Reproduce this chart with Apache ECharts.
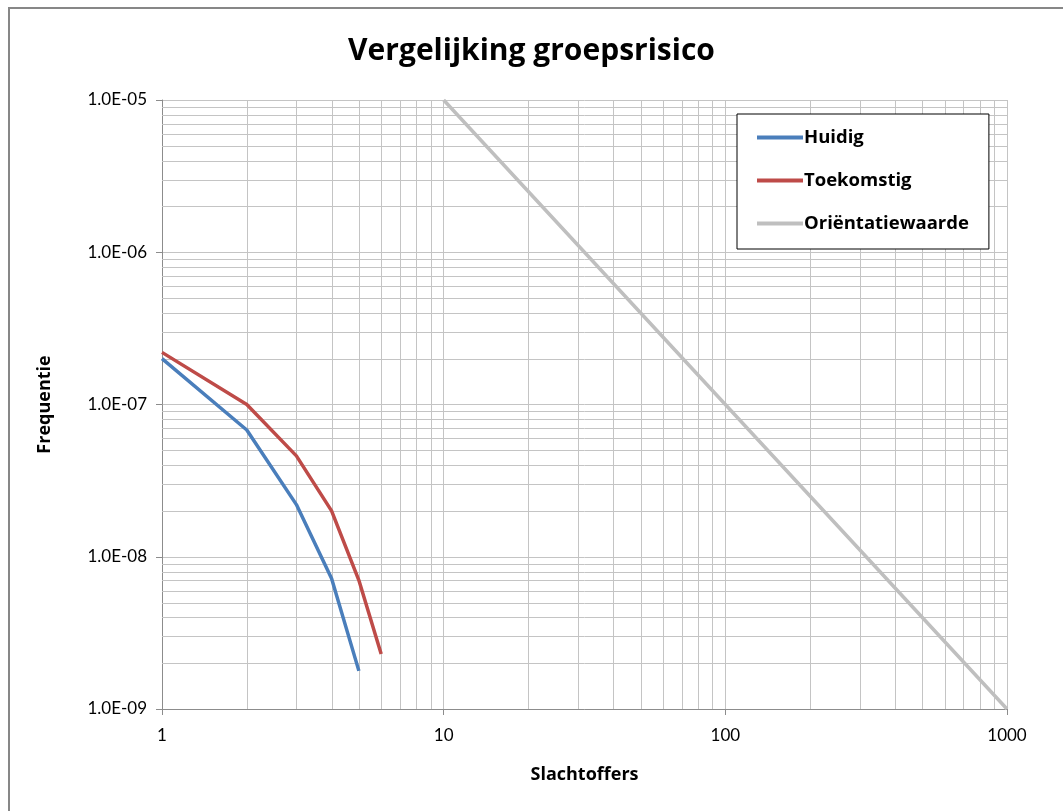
<!DOCTYPE html>
<html><head><meta charset="utf-8">
<script src="https://cdn.jsdelivr.net/npm/echarts@6/dist/echarts.min.js"></script>
<style>html,body{margin:0;padding:0;background:#fff}#c{width:1063px;height:811px}</style>
</head><body><div id="c"></div>
<script>
const title = 'Vergelijking groepsrisico';
const xName = 'Slachtoffers';
const yName = 'Frequentie';
const huidigX = [1, 2, 3, 4, 5];
const huidigY = [2.0e-7, 6.8e-8, 2.2e-8, 7.2e-9, 1.78e-9];
const toekomstigX = [1, 2, 3, 4, 5, 6];
const toekomstigY = [2.2e-7, 1.0e-7, 4.6e-8, 2.0e-8, 7.0e-9, 2.3e-9];
const orientX = [10, 100, 1000];
const orientY = [1e-5, 1e-7, 1e-9];
const xMinorGrid = [2,3,4,5,6,7,8,9,20,30,40,50,60,70,80,90,200,300,400,500,600,700,800,900];
const yMinorGrid = [2e-9,3e-9,4e-9,5e-9,6e-9,7e-9,8e-9,9e-9,2e-8,3e-8,4e-8,5e-8,6e-8,7e-8,8e-8,9e-8,
  2e-7,3e-7,4e-7,5e-7,6e-7,7e-7,8e-7,9e-7,2e-6,3e-6,4e-6,5e-6,6e-6,7e-6,8e-6,9e-6];
const xRange = [1, 1000];
const yRange = [1e-9, 1e-5];

const zip = (xs, ys) => xs.map((x, i) => [x, ys[i]]);
const gridColor = '#c4c4c4';
const font = '"Open Sans", Lato, sans-serif';

const chart = echarts.init(document.getElementById('c'), null, {renderer: 'canvas'});
chart.setOption({
  animation: false,
  backgroundColor: '#fff',
  title: {
    text: title, left: 'center', top: 31,
    textStyle: {fontFamily: font, fontSize: 30, fontWeight: 'bold', color: '#000'}
  },
  graphic: [{
    type: 'rect', shape: {x: 9, y: 8, width: 1100, height: 900},
    style: {fill: 'none', stroke: '#878787', lineWidth: 2}, silent: true, z: 100
  }],
  grid: {left: 162, top: 100, width: 845, height: 609, containLabel: false},
  legend: {
    orient: 'vertical', left: 737, top: 114,
    padding: [11, 20, 13, 20], itemGap: 18,
    backgroundColor: '#fff', borderColor: '#000', borderWidth: 1,
    icon: 'rect', itemWidth: 46, itemHeight: 4,
    textStyle: {fontFamily: font, fontSize: 18.5, fontWeight: 'bold', color: '#000', padding: [0, 0, 0, -4], lineHeight: 25},
    data: ['Huidig', 'Toekomstig', 'Oriëntatiewaarde']
  },
  xAxis: {
    type: 'log', logBase: 10, min: xRange[0], max: xRange[1],
    name: xName, nameLocation: 'middle', nameGap: 57,
    nameTextStyle: {fontFamily: font, fontSize: 18, fontWeight: 'bold', color: '#000'},
    axisLine: {show: true, lineStyle: {color: '#8c8c8c', width: 1}},
    axisTick: {show: true, inside: false, length: 6, lineStyle: {color: '#8c8c8c'}},
    axisLabel: {fontFamily: 'Lato, sans-serif', fontSize: 17, color: '#000', margin: 18, formatter: v => String(v)},
    splitLine: {show: true, lineStyle: {color: gridColor, width: 1}}
  },
  yAxis: {
    type: 'log', logBase: 10, min: yRange[0], max: yRange[1],
    name: yName, nameLocation: 'middle', nameGap: 108, nameRotate: 90,
    nameTextStyle: {fontFamily: font, fontSize: 18, fontWeight: 'bold', color: '#000'},
    axisLine: {show: true, lineStyle: {color: '#8c8c8c', width: 1}},
    axisTick: {show: true, inside: false, length: 6, lineStyle: {color: '#8c8c8c'}},
    axisLabel: {
      fontFamily: 'Lato, sans-serif', fontSize: 17, color: '#000', margin: 15,
      formatter: v => v.toExponential(1).toUpperCase().replace(/E([+-])(\d)$/, 'E$10$2')
    },
    splitLine: {show: true, lineStyle: {color: gridColor, width: 1}}
  },
  series: [
    {name: '__xgrid', type: 'custom', data: xMinorGrid.map(v => [v, yRange[0]]),
      renderItem: function (params, api) {
        const v = api.value(0);
        const p1 = api.coord([v, yRange[0]]);
        const p2 = api.coord([v, yRange[1]]);
        const x = Math.round(p1[0]) + 0.5;
        return {type: 'line', shape: {x1: x, y1: p1[1], x2: x, y2: p2[1]}, style: {stroke: gridColor, lineWidth: 1}, silent: true};
      }, silent: true, z: 1},
    {name: '__ygrid', type: 'custom', data: yMinorGrid.map(v => [xRange[0], v]),
      renderItem: function (params, api) {
        const v = api.value(1);
        const p1 = api.coord([xRange[0], v]);
        const p2 = api.coord([xRange[1], v]);
        const y = Math.round(p1[1]) + 0.5;
        return {type: 'line', shape: {x1: p1[0], y1: y, x2: p2[0], y2: y}, style: {stroke: gridColor, lineWidth: 1}, silent: true};
      }, silent: true, z: 1},
    {name: 'Huidig', type: 'line', data: zip(huidigX, huidigY), showSymbol: false, symbol: 'none',
      lineStyle: {color: '#4a7ebb', width: 3.5}, itemStyle: {color: '#4a7ebb'}, z: 5},
    {name: 'Toekomstig', type: 'line', data: zip(toekomstigX, toekomstigY), showSymbol: false, symbol: 'none',
      lineStyle: {color: '#be4b48', width: 3.5}, itemStyle: {color: '#be4b48'}, z: 5},
    {name: 'Oriëntatiewaarde', type: 'line', data: zip(orientX, orientY), showSymbol: false, symbol: 'none',
      lineStyle: {color: '#bfbfbf', width: 3.5}, itemStyle: {color: '#bfbfbf'}, z: 4}
  ]
});
</script></body></html>
